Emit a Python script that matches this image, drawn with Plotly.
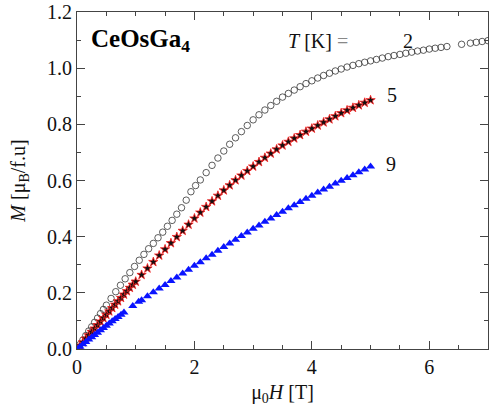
import plotly.graph_objects as go

# T = 2 K (open circles)
H_2K = [0.0, 0.05, 0.1, 0.15, 0.2, 0.25, 0.3, 0.35, 0.4, 0.45, 0.5, 0.58, 0.66, 0.74, 0.82, 0.9, 0.98,
        1.06, 1.14, 1.22, 1.3, 1.38, 1.46, 1.54, 1.62, 1.7, 1.78, 1.86, 1.94, 2.02, 2.1, 2.2, 2.3, 2.4,
        2.5, 2.6, 2.7, 2.8, 2.9, 3.0, 3.1, 3.2, 3.3, 3.4, 3.5, 3.6, 3.7, 3.8, 3.9, 4.0, 4.1, 4.2, 4.3,
        4.4, 4.5, 4.6, 4.7, 4.8, 4.9, 5.0, 5.1, 5.2, 5.3, 5.4, 5.5, 5.6, 5.7, 5.8, 5.9, 6.0, 6.1, 6.2,
        6.3, 6.55, 6.7, 6.8, 6.9, 7.0]
M_2K = [0.0, 0.016, 0.032, 0.048, 0.064, 0.079, 0.095, 0.110, 0.126, 0.141, 0.156, 0.180, 0.204, 0.227,
        0.250, 0.272, 0.294, 0.316, 0.337, 0.357, 0.376, 0.396, 0.416, 0.437, 0.458, 0.480, 0.503, 0.530,
        0.560, 0.582, 0.602, 0.628, 0.654, 0.680, 0.705, 0.729, 0.752, 0.774, 0.796, 0.816, 0.834, 0.851,
        0.867, 0.882, 0.897, 0.910, 0.922, 0.934, 0.945, 0.955, 0.965, 0.974, 0.982, 0.990, 0.997, 1.004,
        1.010, 1.016, 1.021, 1.026, 1.031, 1.036, 1.041, 1.045, 1.049, 1.053, 1.057, 1.061, 1.064, 1.068,
        1.071, 1.074, 1.077, 1.085, 1.089, 1.092, 1.095, 1.098]

# T = 5 K (stars)
H_5K = [0.0, 0.05, 0.1, 0.15, 0.2, 0.25, 0.3, 0.35, 0.4, 0.45, 0.5, 0.55, 0.6, 0.65, 0.7, 0.75, 0.8,
        0.85, 0.9, 0.95, 1.0, 1.1, 1.2, 1.3, 1.4, 1.5, 1.6, 1.7, 1.8, 1.9, 2.0, 2.1, 2.2, 2.3, 2.4, 2.5,
        2.6, 2.7, 2.8, 2.9, 3.0, 3.1, 3.2, 3.3, 3.4, 3.5, 3.6, 3.7, 3.8, 3.9, 4.0, 4.1, 4.2, 4.3, 4.4,
        4.5, 4.6, 4.7, 4.8, 4.9, 5.0]
M_5K = [0.0, 0.012, 0.024, 0.037, 0.049, 0.061, 0.073, 0.085, 0.098, 0.110, 0.122, 0.134, 0.146, 0.158,
        0.170, 0.182, 0.194, 0.206, 0.218, 0.229, 0.240, 0.264, 0.287, 0.310, 0.333, 0.355, 0.377, 0.399,
        0.421, 0.443, 0.465, 0.486, 0.506, 0.526, 0.546, 0.565, 0.583, 0.601, 0.618, 0.634, 0.650, 0.666,
        0.681, 0.696, 0.711, 0.725, 0.738, 0.750, 0.762, 0.774, 0.785, 0.796, 0.807, 0.818, 0.829, 0.840,
        0.850, 0.859, 0.868, 0.877, 0.886]

# T = 9 K (triangles)
H_9K = [0.0, 0.05, 0.1, 0.15, 0.2, 0.25, 0.3, 0.35, 0.4, 0.45, 0.5, 0.55, 0.6, 0.65, 0.7, 0.75, 0.8,
        0.95, 1.05, 1.1, 1.2, 1.3, 1.4, 1.5, 1.6, 1.7, 1.8, 1.9, 2.0, 2.1, 2.2, 2.3, 2.4, 2.5, 2.6, 2.7,
        2.8, 2.9, 3.0, 3.1, 3.2, 3.3, 3.4, 3.5, 3.6, 3.7, 3.8, 3.9, 4.0, 4.1, 4.2, 4.3, 4.4, 4.5, 4.6,
        4.7, 4.8, 4.9, 5.0]
M_9K = [0.0, 0.008, 0.017, 0.025, 0.034, 0.042, 0.050, 0.058, 0.067, 0.075, 0.083, 0.091, 0.099, 0.107,
        0.114, 0.122, 0.130, 0.153, 0.168, 0.174, 0.188, 0.202, 0.215, 0.228, 0.242, 0.255, 0.269, 0.282,
        0.296, 0.309, 0.323, 0.336, 0.350, 0.363, 0.376, 0.389, 0.402, 0.415, 0.428, 0.440, 0.453, 0.465,
        0.477, 0.489, 0.501, 0.512, 0.523, 0.535, 0.546, 0.557, 0.568, 0.578, 0.589, 0.599, 0.609, 0.619,
        0.629, 0.639, 0.650]

temp_labels = ["2", "5", "9"]
label_x = [5.63, 5.36, 5.34]
label_y = [1.096, 0.905, 0.657]

FONT = "Liberation Serif"

fig = go.Figure()
fig.add_trace(go.Scatter(x=H_2K, y=M_2K, mode="markers",
                         marker=dict(symbol="circle-open", size=6.5, color="#333333",
                                     line=dict(width=0.8, color="#333333")),
                         showlegend=False))
fig.add_trace(go.Scatter(x=H_5K, y=M_5K, mode="markers",
                         marker=dict(symbol="star", size=7, color="#111111",
                                     line=dict(width=0.8, color="#ff2020")),
                         showlegend=False))
fig.add_trace(go.Scatter(x=H_9K, y=M_9K, mode="markers",
                         marker=dict(symbol="triangle-up", size=8, color="#0a14ff",
                                     line=dict(width=0)),
                         showlegend=False))

for t, xx, yy in zip(temp_labels, label_x, label_y):
    fig.add_annotation(x=xx, y=yy, text=t, showarrow=False, xref="x", yref="y",
                       font=dict(family=FONT, size=20, color="#111111"))

fig.add_annotation(x=4.1, y=1.096, text="<i>T</i> [K] <span style='color:#888888'>=</span>",
                   showarrow=False, xref="x", yref="y",
                   font=dict(family=FONT, size=20, color="#111111"))
fig.add_annotation(x=0.2, y=1.1, text="<b>CeOsGa<sub>4</sub></b>", showarrow=False,
                   xref="x", yref="y", xanchor="left",
                   font=dict(family=FONT, size=25, color="#000000"))

axis_common = dict(showline=True, linecolor="#444444", linewidth=1, mirror="ticks",
                   ticks="inside", tickcolor="#444444", tickwidth=1, showgrid=False,
                   zeroline=False, automargin=False,
                   tickfont=dict(family=FONT, size=20, color="#111111"))

fig.update_xaxes(range=[0, 7], dtick=2, tick0=0, ticklen=8,
                 minor=dict(dtick=0.5, ticks="inside", ticklen=4, tickcolor="#444444", showgrid=False),
                 title=dict(text="μ<sub>0</sub><i>H</i> [T]", font=dict(family=FONT, size=20, color="#111111"),
                            standoff=7),
                 **axis_common)
fig.update_yaxes(range=[0, 1.2], dtick=0.2, tick0=0, ticklen=8, tickformat=".1f",
                 minor=dict(dtick=0.1, ticks="inside", ticklen=4, tickcolor="#444444", showgrid=False),
                 title=dict(text="<i>M</i> [μ<sub>B</sub>/f.u]", font=dict(family=FONT, size=20, color="#111111"),
                            standoff=16),
                 **axis_common)

fig.update_layout(width=490, height=410, margin=dict(l=77, r=2, t=12, b=61),
                  plot_bgcolor="white", paper_bgcolor="white")

fig.write_html("out.html", config={"displayModeBar": False},
               post_script="document.body.style.margin='0';document.body.style.overflow='hidden';")
